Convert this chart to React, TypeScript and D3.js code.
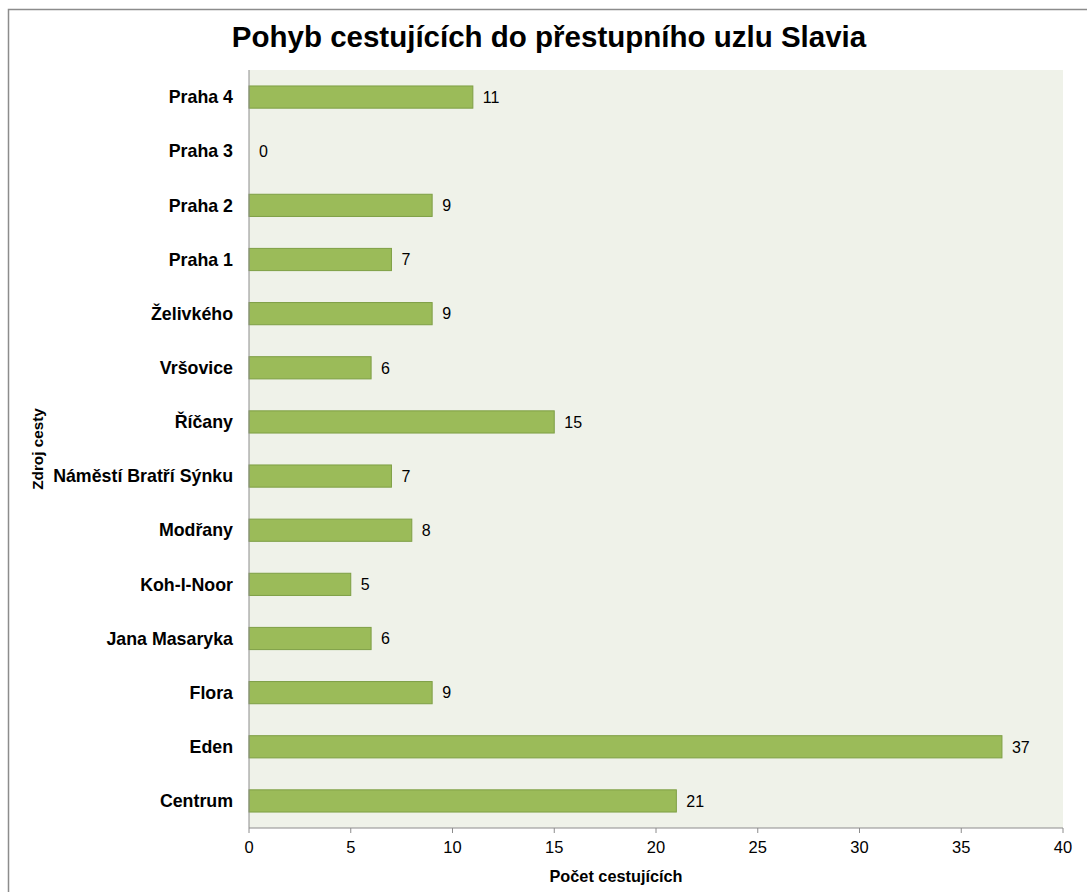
import React from "react";
import * as d3 from "d3";

const categories = [
  "Praha 4",
  "Praha 3",
  "Praha 2",
  "Praha 1",
  "Želivkého",
  "Vršovice",
  "Říčany",
  "Náměstí Bratří Sýnku",
  "Modřany",
  "Koh-I-Noor",
  "Jana Masaryka",
  "Flora",
  "Eden",
  "Centrum",
];
const values = [11, 0, 9, 7, 9, 6, 15, 7, 8, 5, 6, 9, 37, 21];
const xTicks = [0, 5, 10, 15, 20, 25, 30, 35, 40];

const title = "Pohyb cestujících do přestupního uzlu Slavia";
const xTitle = "Počet cestujících";
const yTitle = "Zdroj cesty";

const W = 1087;
const H = 892;
const M = { left: 249, right: 1063, top: 70, bottom: 828 };
const FONT = "'Liberation Sans', Arial, sans-serif";

export default function App() {
  const x = d3.scaleLinear().domain([0, 40]).range([M.left, M.right]);
  const y = d3
    .scaleBand<string>()
    .domain(categories)
    .range([M.top, M.bottom])
    .paddingInner(0.59)
    .paddingOuter(0.295);
  const band = y.step();

  return (
    <svg
      width={W}
      height={H}
      style={{ position: "absolute", left: 0, top: 0, background: "#fff" }}
      fontFamily={FONT}
    >
      <rect x={8.5} y={9.5} width={W + 20} height={H + 20} fill="#fff" stroke="#8c8c8c" strokeWidth={1.5} />
      <text x={549} y={47} textAnchor="middle" fontSize={29.5} fontWeight="bold" fill="#000">
        {title}
      </text>
      <rect x={M.left} y={M.top} width={M.right - M.left} height={M.bottom - M.top} fill="#EFF2E9" />
      {categories.map((c, i) => {
        const v = values[i];
        const yy = y(c)!;
        const cy = M.top + band * (i + 0.5);
        return (
          <g key={c}>
            {v > 0 && (
              <rect
                x={x(0)}
                y={yy}
                width={x(v) - x(0)}
                height={y.bandwidth()}
                fill="#9BBB59"
                stroke="#7E9F45"
                strokeWidth={1}
              />
            )}
            <text x={x(v) + 10} y={cy} dy="0.36em" fontSize={16} fill="#000">
              {v}
            </text>
            <text x={M.left - 16} y={cy} dy="0.35em" textAnchor="end" fontSize={17.8} fontWeight="bold" fill="#000">
              {c}
            </text>
          </g>
        );
      })}
      <line x1={M.left} x2={M.left} y1={M.top} y2={M.bottom} stroke="#8c8c8c" strokeWidth={1} />
      <line x1={M.left} x2={M.right} y1={M.bottom} y2={M.bottom} stroke="#8c8c8c" strokeWidth={1} />
      {xTicks.map((t) => (
        <g key={t}>
          <line x1={x(t)} x2={x(t)} y1={M.bottom} y2={M.bottom + 5} stroke="#8c8c8c" strokeWidth={1} />
          <text x={x(t)} y={853} textAnchor="middle" fontSize={16.5} fill="#000">
            {t}
          </text>
        </g>
      ))}
      <text x={616} y={882} textAnchor="middle" fontSize={16.3} fontWeight="bold" fill="#000">
        {xTitle}
      </text>
      <text
        transform={`translate(43, ${(M.top + M.bottom) / 2}) rotate(-90)`}
        textAnchor="middle"
        fontSize={15.3}
        fontWeight="bold"
        fill="#000"
      >
        {yTitle}
      </text>
    </svg>
  );
}
